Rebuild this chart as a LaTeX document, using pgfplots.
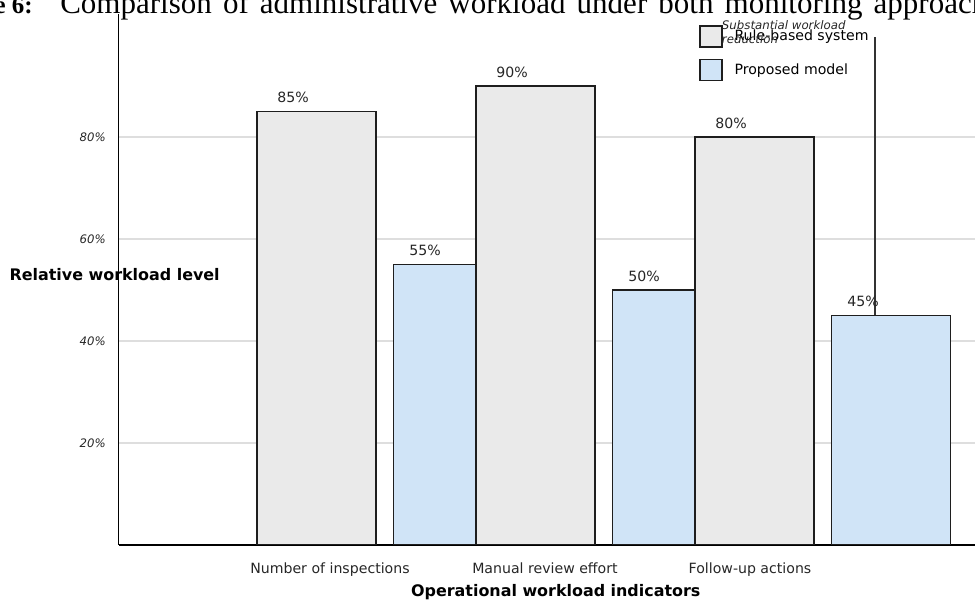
\documentclass[border=0pt]{standalone}
\usepackage{fontspec}
\setmainfont{DejaVu Sans}
\newfontfamily\titlefont{Liberation Serif}
\usepackage{pgfplots}
\pgfplotsset{compat=1.18}

% one drawing unit = one hundredth of an inch
\newlength{\px}
\setlength{\px}{0.01in}

\definecolor{rulegray}{RGB}{234,234,234}
\definecolor{propblue}{RGB}{208,228,247}
\definecolor{edge}{RGB}{30,30,30}

\pgfplotsset{
  boxlegend/.style={legend image code/.code={\draw[##1] (0pt,-10.5\px) rectangle (22\px,10.5\px);}},
  rulebar/.style={fill=rulegray, draw=edge, line width=1.2pt},
  propbar/.style={fill=propblue, draw=edge, line width=1.2pt},
}

\begin{document}
\begin{tikzpicture}[x=\px, y=\px]
\useasboundingbox (0,0) rectangle (975,600);
\clip (0,0) rectangle (975,600);

% caption line
\node[anchor=base east, inner sep=0pt, font=\titlefont\bfseries\fontsize{18}{22}\selectfont] at (33,586.5) {Figure 6:};
\node[anchor=base west, inner sep=0pt, font=\titlefont\fontsize{22.4}{26}\selectfont] at (60,586.5)
  {\spaceskip=0.358em\relax Comparison of administrative workload under both monitoring approaches};

\begin{axis}[
  at={(118.5\px,55\px)}, anchor=south west,
  x=219\px, y=5.1\px,
  xmin=-1.2155, xmax=2.7776,
  ymin=0, ymax=104.1,
  enlargelimits=false,
  axis lines*=left,
  axis line style={line width=1.4pt, black},
  major tick length=0pt,
  /pgf/number format/assume math mode=true,
  ytick={20,40,60,80},
  yticklabels={20\%,40\%,60\%,80\%},
  yticklabel style={font=\itshape\fontsize{8.45}{10}\selectfont, anchor=east, inner sep=0pt, xshift=-12.5\px, text=black!85},
  xtick={-0.2498,0.732,1.668},
  xticklabels={Number of inspections, Manual review effort, Follow-up actions},
  xticklabel style={font=\fontsize{10.2}{12}\selectfont, anchor=base, inner sep=0pt, yshift=-28.5\px, text=black!85},
  ymajorgrids,
  grid style={line width=0.8pt, black!13},
  every axis x label/.style={at={(axis description cs:0.5,0)}, anchor=base, inner sep=0pt, yshift=-52\px, font=\bfseries\fontsize{11.5}{14}\selectfont},
  every axis y label/.style={at={(axis description cs:0,0)}, anchor=base west, inner sep=0pt, xshift=-109.2\px, yshift=264\px, font=\bfseries\fontsize{11.5}{14}\selectfont},
  xlabel={Operational workload indicators},
  ylabel={Relative workload level},
  legend cell align=left,
  legend style={draw=none, fill=none, at={(axis description cs:0.6638,0.9793)}, anchor=north west,
    inner sep=0pt, column sep=12\px, row sep=11\px, font=\fontsize{10.2}{12}\selectfont, nodes={inner sep=0pt}},
  nodes near coords={\pgfmathprintnumber[assume math mode=true]{\pgfplotspointmeta}\%},
  nodes near coords align={anchor=base},
  every node near coord/.append style={inner sep=0pt, yshift=8.7\px, font=\fontsize{10.2}{12}\selectfont, text=black!85},
]
% proposed model (drawn first, partly covered by the next group's bar)
\addplot[ybar, forget plot, propbar, bar width=0.5447, bar shift=0.3119,
  every node near coord/.append style={xshift=40.3\px}]
  coordinates {(0,55) (1,50) (2,45)};
% rule-based system
\addplot[ybar, forget plot, rulebar, bar width=0.5447, bar shift=-0.3119,
  every node near coord/.append style={xshift=-91.7\px}]
  coordinates {(0,85) (1,90) (2,80)};

\addlegendimage{boxlegend, rulebar, line width=0.9pt}
\addlegendentry{Rule-based system}
\addlegendimage{boxlegend, propbar, line width=0.9pt}
\addlegendentry{Proposed model}

% annotation pointer down to the last proposed bar
\draw[line width=0.8pt, black!80] (axis cs:2.2388,45) -- (axis cs:2.2388,99.67);
\end{axis}

\node[anchor=base west, inner sep=0pt, font=\itshape\fontsize{8.5}{10}\selectfont, text=black!85] at (721.7,570) {Substantial workload};
\node[anchor=base west, inner sep=0pt, font=\itshape\fontsize{8.5}{10}\selectfont, text=black!85] at (721.7,556) {reduction};
\end{tikzpicture}
\end{document}
